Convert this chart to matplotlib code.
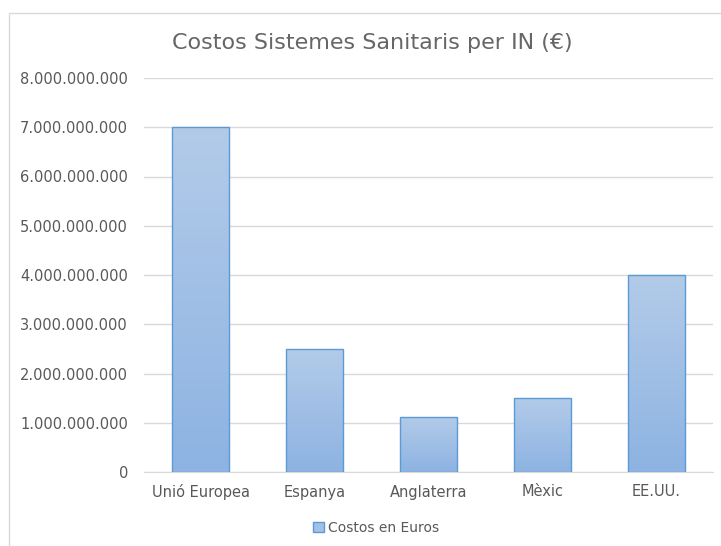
import matplotlib
matplotlib.use("Agg")
import matplotlib.pyplot as plt
import numpy as np
from matplotlib.patches import Rectangle
from matplotlib.ticker import FuncFormatter
from matplotlib.colors import LinearSegmentedColormap

categories = ["Unió Europea", "Espanya", "Anglaterra", "Mèxic", "EE.UU."]
values = [7.0e9, 2.5e9, 1.12e9, 1.5e9, 4.0e9]
series_name = "Costos en Euros"
title = "Costos Sistemes Sanitaris per IN (€)"

plt.rcParams['font.family'] = ['DejaVu Sans']
txt = '#595959'

fig = plt.figure(figsize=(7.21, 5.46), dpi=100)
fig.patches.append(Rectangle((9/721, -0.1), 1.2, 1 - 13/546 + 0.1, transform=fig.transFigure,
                             fill=False, edgecolor='#d9d9d9', linewidth=1))
ax = fig.add_axes([144/721, 1 - 472/546, (713 - 144)/721, (472 - 78)/546])

x = np.arange(len(categories))
bars = ax.bar(x, values, width=0.5, color='none', edgecolor='#5b9bd5', linewidth=1, zorder=3)
grad = np.linspace(0, 1, 256).reshape(-1, 1)
cmap = LinearSegmentedColormap.from_list('g', ['#8db3e2', '#b3cbe9'])
for b in bars:
    im = ax.imshow(grad, cmap=cmap, aspect='auto', origin='lower',
                   extent=[b.get_x(), b.get_x() + b.get_width(), 0, b.get_height()], zorder=2)
    im.set_clip_path(b)

ax.set_xlim(-0.5, len(categories) - 0.5)
ax.set_ylim(0, 8e9)
ax.set_yticks(np.arange(0, 8.01e9, 1e9))
ax.yaxis.set_major_formatter(FuncFormatter(lambda v, p: f"{int(round(v)):,}".replace(",", ".")))
ax.grid(axis='y', color='#d9d9d9', linewidth=1, zorder=0)
ax.set_axisbelow(True)
for s in ['top', 'right', 'left']:
    ax.spines[s].set_visible(False)
ax.spines['bottom'].set_color('#d9d9d9')
ax.tick_params(axis='both', length=0, colors=txt, labelsize=10.5)
ax.tick_params(axis='y', pad=11.5)
ax.tick_params(axis='x', pad=9)
ax.set_xticks(x)
ax.set_xticklabels(categories)

fig.text(372/721, 1 - 43/546, title, ha='center', va='center', fontsize=16, color='#666666')

leg = fig.legend([Rectangle((0, 0), 1, 1, facecolor='#a3c1e6', edgecolor='#5b9bd5')], [series_name],
                 loc='center', bbox_to_anchor=(376/721, 1 - 528/546), frameon=False,
                 fontsize=10, handlelength=0.8, handleheight=0.8, handletextpad=0.3, labelcolor=txt)

fig.savefig("out.png", dpi=100, facecolor='white')
